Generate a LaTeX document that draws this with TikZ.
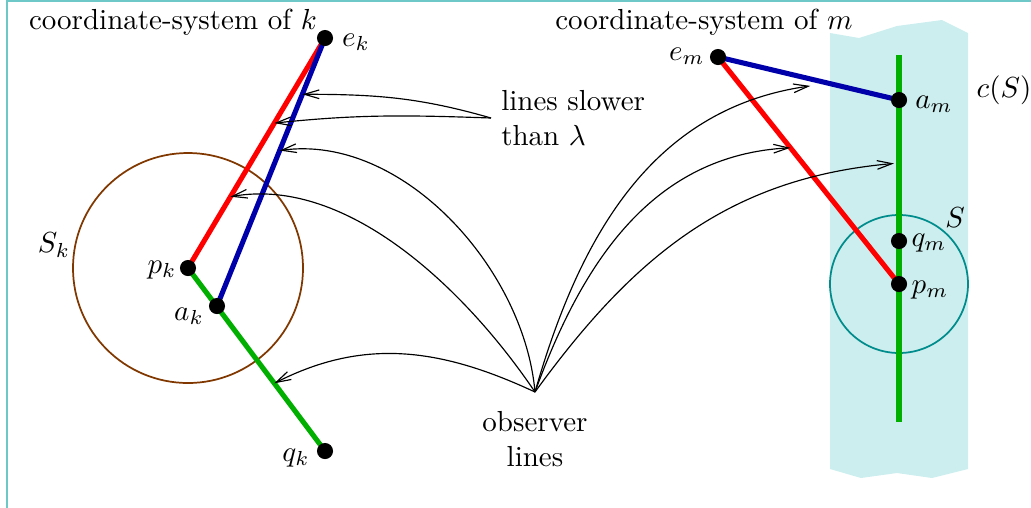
\documentclass[tikz,border=0pt]{standalone}
\usetikzlibrary{arrows.meta,calc,backgrounds}
\definecolor{bandcyan}{RGB}{204,238,238}
\definecolor{framecyan}{RGB}{110,200,200}
\definecolor{circbrown}{RGB}{128,55,0}
\definecolor{circteal}{RGB}{0,140,140}
\definecolor{lineblue}{RGB}{0,0,170}
\definecolor{linegreen}{RGB}{0,175,0}
\begin{document}
\begin{tikzpicture}[x=0.01212cm,y=0.01212cm,
  dot/.style={circle,fill=black,inner sep=0pt,minimum size=0.195cm},
  wl/.style={line width=1.75pt},
  obsline/.style={-{Straight Barb[length=1.8mm,width=1.05mm]},line width=0.4pt}]
  \useasboundingbox (0,0) rectangle (1031,507);
  \draw[framecyan,line width=0.8pt] (7,-30) rectangle (1060,506);
  % coordinate-system of k
  \node[dot] (ek) at (325,469) {};
  \node[dot] (pk) at (188,239) {};
  \node[dot] (ak) at (217,201) {};
  \node[dot] (qk) at (325,56) {};
  % coordinate-system of m
  \node[dot] (em) at (718,450) {};
  \node[dot] (am) at (899,407) {};
  \node[dot] (qm) at (899,266) {};
  \node[dot] (pm) at (899,223) {};
  \coordinate (gtop) at (899,452);
  \coordinate (gbot) at (899,85);
  \begin{pgfonlayer}{background}
    \fill[bandcyan] (830,474) -- (859,469) -- (897,481) -- (942,487) -- (968,474)
      -- (968,38) -- (932,29) -- (897,34) -- (861,29) -- (830,38) -- cycle;
    \draw[circbrown,line width=0.6pt] (pk) circle (115);
    \draw[circteal,line width=0.6pt] (pm) circle (69);
    \draw[wl,red] (pk.center) -- (ek.center);
    \draw[wl,lineblue] (ak.center) -- (ek.center);
    \draw[wl,linegreen] (pk.center) -- (qk.center);
    \draw[wl,linegreen] (gtop) -- (gbot);
    \draw[wl,red] (em.center) -- (pm.center);
    \draw[wl,lineblue] (em.center) -- (am.center);
  \end{pgfonlayer}
  % labels
  \node (sysk) at (173,485) {coordinate-system of $k$};
  \node (sysm) at (704,485) {coordinate-system of $m$};
  \node (lek) at (356,465) {$e_k$};
  \node (lpk) at (162,237) {$p_k$};
  \node (lak) at (189,191) {$a_k$};
  \node (lqk) at (296,49) {$q_k$};
  \node (lsk) at (54,262) {$S_k$};
  \node (lem) at (687,451) {$e_m$};
  \node (lam) at (934,403) {$a_m$};
  \node (lqm) at (929,264) {$q_m$};
  \node (lpm) at (930,217) {$p_m$};
  \node (ls) at (955,289) {$S$};
  \node (lcs) at (1004,417) {$c(S)$};
  \node[align=left,anchor=west] (slow) at (491,389) {lines slower\\than $\lambda$};
  \node[align=center,anchor=north] (obstxt) at (535,106) {observer\\lines};
  \coordinate (obs) at (535,115);
  % arrow targets
  \coordinate (tbk) at ($(ak)!0.58!(ek)$);
  \coordinate (trk) at ($(pk)!0.31!(ek)$);
  \coordinate (tgk) at ($(pk)!0.63!(qk)$);
  \coordinate (tbm) at ($(em)!0.51!(am)+(0,-7)$);
  \coordinate (trm) at ($(em)!0.4!(pm)$);
  \coordinate (tgm) at ($(am)!0.45!(qm)+(-5,0)$);
  \coordinate (sbk) at ($(ak)!0.79!(ek)$);
  \coordinate (srk) at ($(pk)!0.63!(ek)$);
  \foreach \t/\o/\i/\l in {tbk/95/8/0.9,trk/124/10/0.85,tgk/155/27/1,tbm/74/188/1,trm/70/183/1,tgm/54/185/1}
    \draw[obsline] (obs) to[out=\o,in=\i,looseness=\l] (\t);
  \draw[obsline] (slow.west) to[out=164,in=0] (sbk);
  \draw[obsline] (slow.west) to[out=178,in=6] (srk);
\end{tikzpicture}
\end{document}
